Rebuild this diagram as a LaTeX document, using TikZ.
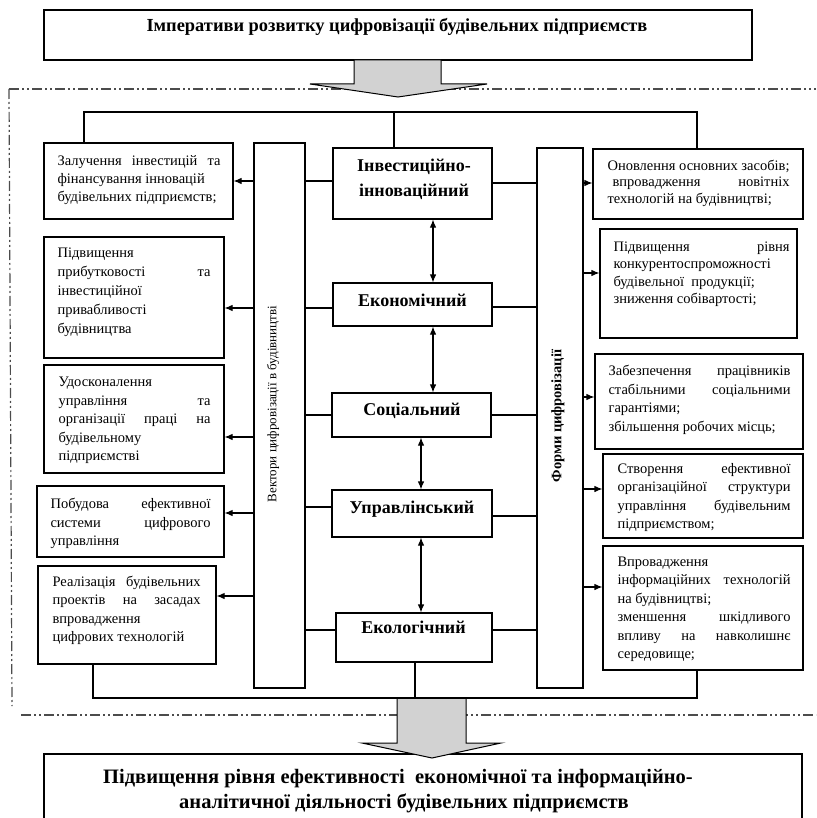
\documentclass[tikz,border=0pt]{standalone}
\usepackage{fontspec}
\setmainfont{Liberation Serif}
\usetikzlibrary{arrows.meta,fit}

% one justified line of a fixed width (in pt)
\newcommand{\jline}[2]{\makebox[#1pt][s]{#2}}
% body text size with a given line distance
\newcommand{\bodyfont}[1]{\fontsize{14.5}{#1}\selectfont}

\begin{document}
\begin{tikzpicture}[x=1pt,y=-1pt,line width=1.1pt,
  frame/.style={draw, inner sep=0pt, fit={#1}},
  txt/.style={anchor=base west, inner sep=0pt},
  head/.style={anchor=base, inner sep=0pt, font=\fontsize{18}{22}\selectfont\bfseries},
  result/.style={anchor=base, inner sep=0pt, font=\fontsize{20.5}{24}\selectfont\bfseries},
  arr/.style={-{Latex[length=8pt,width=6.5pt]}},
  darr/.style={{Latex[length=8pt,width=6.5pt]}-{Latex[length=8pt,width=6.5pt]}},
  bigarrow/.style={draw, line width=1pt, fill=gray!35, line join=miter},
  zone/.style={draw=black!70, line width=1.2pt,
    dash pattern=on 10pt off 3pt on 2pt off 3pt on 2pt off 3pt}]

\useasboundingbox (0,0) rectangle (816,818);

% dash-dotted border of the central block
\draw[zone] (9,89) -- (816,89);
\draw[zone] (9,89) -- (12,706);
\draw[zone] (21,715) -- (816,715);

% heading box and its arrow
\node[frame={(44,10) (752,60)}] (top) {};
\node[head, font=\fontsize{18.4}{22}\selectfont\bfseries] (toptext) at (397,32) {Імперативи розвитку цифровізації будівельних підприємств};
\draw[bigarrow] (354,60) -- (354,84) -- (310,84) -- (398,97) -- (487,84) -- (441,84) -- (441,60) -- cycle;

% side bars
\node[frame={(254,143) (305,688)}] (vb) {};
\node[rotate=90, inner sep=0pt, font=\fontsize{13}{15}\selectfont] (vbt) at (273,404) {Вектори цифровізації в будівництві};
\node[frame={(537,148) (583,688)}] (fb) {};
\node[rotate=90, inner sep=0pt, font=\fontsize{14.5}{16}\selectfont\bfseries] (fbt) at (558,416) {Форми цифровізації};

% central vectors
\node[frame={(333,148) (492,219)}] (C1) {};
\node[head] (C1a) at (414,172) {Інвестиційно-};
\node[head] (C1b) at (414,197) {інноваційний};
\node[frame={(333,283) (492,326)}] (C2) {};
\node[head] (C2t) at (412.5,306.5) {Економічний};
\node[frame={(332,393) (491,437)}] (C3) {};
\node[head] (C3t) at (412,415.5) {Соціальний};
\node[frame={(332,490) (492,537)}] (C4) {};
\node[head] (C4t) at (412,513.5) {Управлінський};
\node[frame={(336,613) (492,662)}] (C5) {};
\node[head] (C5t) at (413.5,633.5) {Екологічний};

% left column
\node[frame={(44,143) (233,219)}] (L1) {};
\node[txt] (L1x) at (57,165.5) {\parbox[t]{175pt}{\bodyfont{18}%
\jline{163}{Залучення інвестицій та}\\
фінансування інновацій\\
будівельних підприємств;}};
\node[frame={(44,237) (224,358)}] (L2) {};
\node[txt] (L2x) at (57,257.5) {\parbox[t]{165pt}{\bodyfont{19}%
Підвищення\\
\jline{153}{прибутковості та}\\
інвестиційної\\
привабливості\\
будівництва}};
\node[frame={(44,365) (224,473)}] (L3) {};
\node[txt] (L3x) at (58,386.5) {\parbox[t]{165pt}{\bodyfont{18.5}%
Удосконалення\\
\jline{152}{управління та}\\
\jline{152}{організації праці на}\\
будівельному\\
підприємстві}};
\node[frame={(37,486) (224,557)}] (L4) {};
\node[txt] (L4x) at (50,508.5) {\parbox[t]{170pt}{\bodyfont{18.5}%
\jline{160}{Побудова ефективної}\\
\jline{160}{системи цифрового}\\
управління}};
\node[frame={(38,566) (216,664)}] (L5) {};
\node[txt] (L5x) at (52,586.5) {\parbox[t]{160pt}{\bodyfont{18.3}%
\jline{148}{Реалізація будівельних}\\
\jline{148}{проектів на засадах}\\
впровадження\\
цифрових технологій}};

% right column
\node[frame={(593,149) (803,219)}] (R1) {};
\node[txt] (R1x) at (607,170.5) {\parbox[t]{195pt}{\bodyfont{16.5}%
Оновлення основних засобів;\\
\hspace*{5pt}\jline{177}{впровадження новітніх}\\
технологій на будівництві;}};
\node[frame={(600,229) (797,338)}] (R2) {};
\node[txt] (R2x) at (613,251.5) {\parbox[t]{185pt}{\bodyfont{17.3}%
\jline{176}{Підвищення рівня}\\
конкурентоспроможності\\
будівельної\ \ продукції;\\
зниження собівартості;}};
\node[frame={(595,354) (803,449)}] (R3) {};
\node[txt] (R3x) at (608,375.5) {\parbox[t]{195pt}{\bodyfont{18.7}%
\jline{182}{Забезпечення працівників}\\
\jline{182}{стабільними соціальними}\\
гарантіями;\\
збільшення робочих місць;}};
\node[frame={(603,454) (803,538)}] (R4) {};
\node[txt] (R4x) at (617,473.5) {\parbox[t]{185pt}{\bodyfont{18.3}%
\jline{173}{Створення ефективної}\\
\jline{173}{організаційної структури}\\
\jline{173}{управління будівельним}\\
підприємством;}};
\node[frame={(603,546) (803,670)}] (R5) {};
\node[txt] (R5x) at (617,566.5) {\parbox[t]{185pt}{\bodyfont{18.4}%
Впровадження\\
\jline{173}{інформаційних технологій}\\
на будівництві;\\
\jline{173}{зменшення шкідливого}\\
\jline{173}{впливу на навколишнє}\\
середовище;}};

% result box and its arrow
\node[frame={(44,754) (802,840)}] (bot) {};
\node[result] (bota) at (398,783) {Підвищення рівня ефективності\ \ економічної та інформаційно-};
\node[result] (botb) at (404,808) {аналітичної діяльності будівельних підприємств};
\draw[bigarrow] (397,698) -- (397,743) -- (362,743) -- (432,758) -- (501,743) -- (466,743) -- (466,698) -- cycle;

% bus lines
\coordinate (busTL) at (84,112);
\coordinate (busTM) at (394,112);
\coordinate (busTR) at (697,112);
\draw (L1.north -| busTL) -- (busTL) -- (busTR) -- (R1.north -| busTR);
\draw (busTM) -- (C1.north -| busTM);
\coordinate (busBL) at (93,698);
\coordinate (busBM) at (415,698);
\coordinate (busBR) at (697,698);
\draw (L5.south -| busBL) -- (busBL) -- (busBR) -- (R5.south -| busBR);
\draw (C5.south -| busBM) -- (busBM);

% links between the vectors
\coordinate (va) at (433,0);
\coordinate (vb2) at (421,0);
\draw[darr] (C1.south -| va) -- (C2.north -| va);
\draw[darr] (C2.south -| va) -- (C3.north -| va);
\draw[darr] (C3.south -| vb2) -- (C4.north -| vb2);
\draw[darr] (C4.south -| vb2) -- (C5.north -| vb2);

% left side: vectors to the bar, bar to the boxes
\coordinate (la1) at (0,181);
\coordinate (la2) at (0,308);
\coordinate (lc3) at (0,415);
\coordinate (lc4) at (0,507);
\coordinate (lc5) at (0,630);
\coordinate (lb3) at (0,437);
\coordinate (lb4) at (0,513);
\coordinate (lb5) at (0,596);
\draw (vb.east |- la1) -- (C1.west |- la1);
\draw (vb.east |- la2) -- (C2.west |- la2);
\draw (vb.east |- lc3) -- (C3.west |- lc3);
\draw (vb.east |- lc4) -- (C4.west |- lc4);
\draw (vb.east |- lc5) -- (C5.west |- lc5);
\draw[arr] (vb.west |- la1) -- (L1.east |- la1);
\draw[arr] (vb.west |- la2) -- (L2.east |- la2);
\draw[arr] (vb.west |- lb3) -- (L3.east |- lb3);
\draw[arr] (vb.west |- lb4) -- (L4.east |- lb4);
\draw[arr] (vb.west |- lb5) -- (L5.east |- lb5);

% right side: vectors to the bar, bar to the boxes
\coordinate (rc1) at (0,183);
\coordinate (rc2) at (0,307);
\coordinate (rc3) at (0,415);
\coordinate (rc4) at (0,516);
\coordinate (rc5) at (0,630);
\coordinate (rb2) at (0,273);
\coordinate (rb3) at (0,397);
\coordinate (rb4) at (0,489);
\coordinate (rb5) at (0,587);
\draw (C1.east |- rc1) -- (fb.west |- rc1);
\draw (C2.east |- rc2) -- (fb.west |- rc2);
\draw (C3.east |- rc3) -- (fb.west |- rc3);
\draw (C4.east |- rc4) -- (fb.west |- rc4);
\draw (C5.east |- rc5) -- (fb.west |- rc5);
\draw[arr] (fb.east |- rc1) -- (R1.west |- rc1);
\draw[arr] (fb.east |- rb2) -- (R2.west |- rb2);
\draw[arr] (fb.east |- rb3) -- (R3.west |- rb3);
\draw[arr] (fb.east |- rb4) -- (R4.west |- rb4);
\draw[arr] (fb.east |- rb5) -- (R5.west |- rb5);
\end{tikzpicture}
\end{document}
